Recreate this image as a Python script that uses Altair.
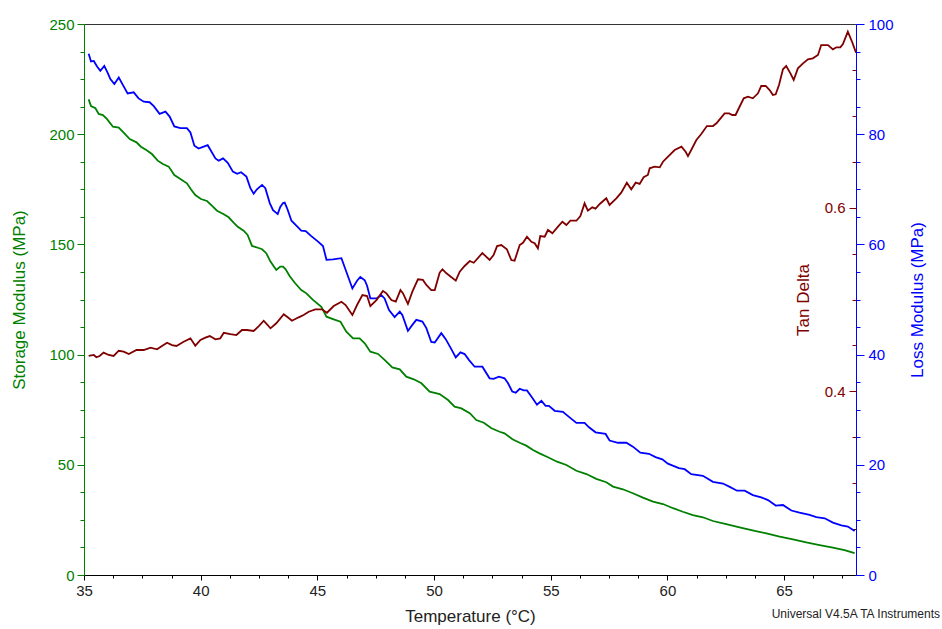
import altair as alt
import pandas as pd

# ---------------- data ----------------
storage_temp = [35.20, 35.30, 35.49, 35.63, 35.81, 35.99, 36.24, 36.49, 36.73, 36.96,
                37.25, 37.44, 37.67, 37.91, 38.16, 38.38, 38.63, 38.87, 39.13, 39.41,
                39.58, 39.77, 40.01, 40.27, 40.48, 40.70, 40.99, 41.20, 41.41, 41.59,
                41.84, 42.01, 42.20, 42.39, 42.63, 42.81, 42.99, 43.24, 43.41, 43.53,
                43.64, 43.81, 44.03, 44.31, 44.53, 44.81, 45.17, 45.39, 45.70, 45.99,
                46.24, 46.53, 46.81, 47.03, 47.27, 47.60, 47.88, 48.21, 48.53, 48.81,
                49.13, 49.46, 49.81, 50.24, 50.60, 50.88, 51.17, 51.53, 51.81, 52.13,
                52.46, 52.81, 53.02, 53.36, 53.67, 53.95, 54.24, 54.52, 54.88, 55.27,
                55.67, 56.10, 56.53, 56.95, 57.38, 57.67, 58.09, 58.52, 58.95, 59.38,
                59.81, 60.24, 60.66, 61.09, 61.52, 61.95, 62.52, 63.09, 63.74, 64.24,
                64.81, 65.38, 65.95, 66.52, 67.09, 67.59, 68.02]
storage_mpa = [215.8, 212.8, 211.8, 209.2, 208.7, 206.8, 203.4, 203.0, 200.4, 197.8,
               196.3, 194.3, 192.8, 191.0, 188.0, 186.5, 185.3, 181.5, 179.7, 177.7,
               175.0, 172.4, 170.6, 169.7, 167.6, 165.3, 163.7, 162.3, 159.9, 158.0,
               156.2, 154.3, 149.3, 148.7, 147.8, 146.0, 142.2, 138.4, 139.9, 139.9,
               138.7, 135.7, 132.6, 129.3, 127.8, 124.8, 121.7, 117.2, 116.0, 114.9,
               110.4, 107.4, 107.4, 105.1, 101.3, 100.3, 97.6, 94.2, 93.3, 90.0,
               88.8, 87.0, 83.2, 82.1, 79.4, 76.4, 75.6, 73.4, 70.3, 69.1,
               66.6, 65.0, 64.3, 61.6, 60.0, 58.7, 56.7, 55.2, 53.4, 51.4,
               49.9, 47.3, 45.8, 43.6, 42.1, 40.1, 38.9, 37.1, 35.1, 33.3,
               32.2, 30.3, 28.7, 27.2, 26.2, 24.5, 23.1, 21.6, 20.0, 18.9,
               17.4, 16.2, 14.8, 13.6, 12.4, 11.3, 9.9]

loss_temp = [35.20, 35.30, 35.42, 35.56, 35.70, 35.87, 36.02, 36.13, 36.30, 36.49,
             36.67, 36.87, 37.13, 37.34, 37.56, 37.81, 37.99, 38.24, 38.49, 38.67,
             38.87, 39.13, 39.41, 39.56, 39.73, 39.91, 40.10, 40.30, 40.44, 40.63,
             40.77, 40.96, 41.16, 41.38, 41.56, 41.73, 41.96, 42.13, 42.27, 42.41,
             42.63, 42.77, 42.96, 43.10, 43.30, 43.41, 43.53, 43.60, 43.70, 43.89,
             44.10, 44.31, 44.50, 44.74, 45.03, 45.24, 45.39, 45.67, 46.03, 46.21,
             46.50, 46.70, 46.84, 47.03, 47.13, 47.27, 47.53, 47.74, 47.88, 48.07,
             48.31, 48.53, 48.64, 48.88, 49.07, 49.24, 49.50, 49.67, 49.88, 50.03,
             50.31, 50.50, 50.74, 50.93, 51.13, 51.31, 51.50, 51.74, 52.07, 52.38,
             52.55, 52.78, 53.02, 53.17, 53.35, 53.50, 53.67, 53.84, 53.98, 54.17,
             54.41, 54.60, 54.78, 54.92, 55.17, 55.52, 55.78, 56.10, 56.45, 56.64,
             56.92, 57.35, 57.52, 57.88, 58.24, 58.52, 58.84, 59.21, 59.49, 59.78,
             60.02, 60.49, 60.74, 61.02, 61.52, 61.95, 62.38, 62.67, 62.98, 63.31,
             63.66, 64.02, 64.31, 64.64, 64.95, 65.31, 65.66, 66.09, 66.38, 66.74,
             67.09, 67.45, 67.73, 68.02]
loss_mpa = [94.6, 93.2, 93.3, 92.3, 91.5, 92.4, 91.1, 90.0, 89.1, 90.3,
            88.9, 87.4, 87.6, 86.5, 85.9, 85.8, 85.1, 83.7, 84.1, 83.2,
            81.4, 81.1, 81.1, 80.3, 77.9, 77.4, 77.7, 78.0, 77.0, 75.6,
            75.2, 75.6, 74.8, 73.2, 72.8, 73.1, 72.3, 70.2, 69.2, 70.0,
            70.8, 70.2, 67.5, 66.2, 65.5, 66.8, 67.5, 67.6, 66.6, 64.3,
            63.4, 62.5, 62.4, 61.5, 60.5, 59.7, 57.2, 57.3, 57.5, 55.4,
            52.0, 53.4, 54.1, 53.5, 52.5, 50.2, 50.2, 50.8, 50.2, 48.1,
            46.8, 47.8, 47.2, 44.3, 45.4, 46.3, 46.0, 44.8, 42.3, 42.2,
            43.9, 42.8, 41.0, 39.5, 40.4, 40.1, 39.0, 37.8, 37.8, 35.7,
            35.6, 36.0, 35.7, 34.8, 33.3, 33.1, 33.8, 33.5, 33.5, 32.4,
            30.9, 31.6, 30.7, 30.7, 29.8, 29.6, 28.7, 27.6, 27.6, 26.8,
            25.9, 25.6, 24.4, 24.0, 24.0, 23.3, 22.2, 22.0, 21.4, 21.0,
            20.2, 19.4, 19.2, 18.3, 18.0, 16.9, 16.6, 16.0, 15.3, 15.3,
            14.5, 14.1, 13.6, 12.6, 12.7, 11.7, 11.3, 10.9, 10.5, 10.3,
            9.5, 9.0, 8.8, 8.0]

tan_temp = [35.20, 35.42, 35.53, 35.67, 35.84, 36.06, 36.27, 36.49, 36.70, 36.92,
            37.25, 37.56, 37.85, 38.13, 38.34, 38.56, 38.77, 38.96, 39.27, 39.56,
            39.77, 39.99, 40.20, 40.39, 40.63, 40.84, 40.99, 41.27, 41.53, 41.77,
            41.98, 42.27, 42.49, 42.70, 42.87, 42.99, 43.24, 43.56, 43.73, 43.91,
            44.20, 44.41, 44.63, 44.91, 45.20, 45.41, 45.70, 46.03, 46.21, 46.50,
            46.70, 46.93, 47.13, 47.27, 47.53, 47.81, 47.96, 48.17, 48.36, 48.56,
            48.67, 48.88, 49.07, 49.31, 49.52, 49.67, 49.88, 50.03, 50.24, 50.36,
            50.53, 50.93, 51.10, 51.31, 51.53, 51.70, 52.07, 52.38, 52.55, 52.70,
            52.88, 53.12, 53.31, 53.45, 53.67, 53.81, 53.98, 54.17, 54.31, 54.45,
            54.55, 54.74, 54.88, 55.07, 55.31, 55.50, 55.67, 55.84, 56.10, 56.27,
            56.45, 56.59, 56.78, 56.92, 57.10, 57.38, 57.52, 57.81, 58.02, 58.26,
            58.45, 58.64, 58.81, 58.98, 59.16, 59.24, 59.45, 59.67, 59.81, 59.95,
            60.09, 60.31, 60.60, 60.78, 60.88, 61.02, 61.24, 61.45, 61.69, 61.95,
            62.10, 62.24, 62.45, 62.64, 62.78, 62.92, 63.09, 63.27, 63.45, 63.66,
            63.88, 64.02, 64.21, 64.38, 64.52, 64.64, 64.78, 64.95, 65.09, 65.27,
            65.41, 65.59, 65.81, 66.02, 66.23, 66.45, 66.59, 66.88, 67.09, 67.24,
            67.41, 67.52, 67.73, 67.91, 68.08]
tan_delta = [0.4385, 0.4396, 0.4371, 0.4385, 0.4421, 0.4396, 0.4385, 0.4442, 0.4432, 0.4406,
             0.4450, 0.4450, 0.4475, 0.4458, 0.4494, 0.4530, 0.4504, 0.4494, 0.4540, 0.4577,
             0.4497, 0.4559, 0.4584, 0.4602, 0.4567, 0.4577, 0.4638, 0.4624, 0.4613, 0.4668,
             0.4668, 0.4657, 0.4711, 0.4769, 0.4722, 0.4686, 0.4741, 0.4839, 0.4806, 0.4769,
             0.4806, 0.4831, 0.4867, 0.4893, 0.4893, 0.4856, 0.4929, 0.4976, 0.4940, 0.4831,
             0.4940, 0.5049, 0.5038, 0.4929, 0.4994, 0.5092, 0.5067, 0.4994, 0.4976, 0.5103,
             0.5067, 0.4951, 0.5085, 0.5220, 0.5213, 0.5158, 0.5103, 0.5103, 0.5292, 0.5329,
             0.5285, 0.5205, 0.5303, 0.5365, 0.5419, 0.5400, 0.5506, 0.5430, 0.5484, 0.5582,
             0.5593, 0.5547, 0.5430, 0.5422, 0.5593, 0.5618, 0.5684, 0.5629, 0.5612, 0.5557,
             0.5691, 0.5684, 0.5757, 0.5721, 0.5793, 0.5847, 0.5811, 0.5858, 0.5858, 0.5909,
             0.6047, 0.5967, 0.6004, 0.5989, 0.6040, 0.6102, 0.6029, 0.6102, 0.6163, 0.6272,
             0.6200, 0.6272, 0.6258, 0.6331, 0.6356, 0.6429, 0.6446, 0.6439, 0.6500, 0.6537,
             0.6573, 0.6628, 0.6664, 0.6609, 0.6562, 0.6628, 0.6737, 0.6802, 0.6889, 0.6889,
             0.6919, 0.6962, 0.7027, 0.7027, 0.7009, 0.7009, 0.7099, 0.7191, 0.7208, 0.7191,
             0.7245, 0.7325, 0.7325, 0.7281, 0.7227, 0.7234, 0.7336, 0.7507, 0.7543, 0.7463,
             0.7390, 0.7517, 0.7572, 0.7615, 0.7626, 0.7662, 0.7771, 0.7771, 0.7724, 0.7746,
             0.7746, 0.7782, 0.7916, 0.7807, 0.7687]

# axis tick values
x_major = [35, 40, 45, 50, 55, 60, 65]
x_minor = [36.25, 37.5, 38.75, 41.25, 42.5, 43.75, 46.25, 47.5, 48.75, 51.25, 52.5, 53.75,
           56.25, 57.5, 58.75, 61.25, 62.5, 63.75, 66.25, 67.5]
storage_major = [0, 50, 100, 150, 200, 250]
storage_minor = [12.5, 25, 37.5, 62.5, 75, 87.5, 112.5, 125, 137.5, 162.5, 175, 187.5,
                 212.5, 225, 237.5]
loss_major = [0, 20, 40, 60, 80, 100]
loss_minor = [5, 10, 15, 25, 30, 35, 45, 50, 55, 65, 70, 75, 85, 90, 95]
tan_major = [0.4, 0.6]
tan_minor = [0.25, 0.3, 0.35, 0.45, 0.5, 0.55, 0.65, 0.7, 0.75]
footer = "Universal V4.5A TA Instruments"

# ---------------- styling ----------------
FONT = "Liberation Sans"
GREEN = "#008000"
BLUE = "#0000FF"
RED = "#800000"
W, H = 772, 551
X_DOMAIN = [35, 68.08]

storage_df = pd.DataFrame({"temp": storage_temp, "value": storage_mpa})
loss_df = pd.DataFrame({"temp": loss_temp, "value": loss_mpa})
tan_df = pd.DataFrame({"temp": tan_temp, "value": tan_delta})


def xscale():
    return alt.Scale(domain=X_DOMAIN, nice=False, zero=False)


def x_none():
    return alt.X("temp:Q", scale=xscale(), axis=None)


# storage modulus (green) with major axis + bottom x axis
storage_line = alt.Chart(storage_df).mark_line(color=GREEN, strokeWidth=1.8, clip=True).encode(
    x=alt.X("temp:Q", scale=xscale(),
            axis=alt.Axis(orient="bottom", values=x_major, format="d", title="Temperature (°C)",
                          grid=False, domainColor="#000", tickColor="#000", tickSize=5,
                          labelPadding=3, labelFontSize=15, labelColor="#222", labelFont=FONT,
                          labelFlush=False,
                          titleFont=FONT, titleFontSize=17, titleFontWeight="normal",
                          titleColor="#222", titlePadding=10)),
    y=alt.Y("value:Q", scale=alt.Scale(domain=[0, 250], nice=False, zero=False),
            axis=alt.Axis(orient="left", values=storage_major, format="d",
                          title="Storage Modulus (MPa)", grid=False, labelFlush=False,
                          domainColor=GREEN, tickColor=GREEN, labelColor=GREEN, titleColor=GREEN,
                          tickSize=7, labelPadding=3, labelFontSize=15, labelFont=FONT,
                          titleFont=FONT, titleFontSize=17, titleFontWeight="normal",
                          titlePadding=20)),
)

storage_minor_layer = alt.Chart(storage_df).mark_line(strokeOpacity=0).encode(
    x=alt.X("temp:Q", scale=xscale(),
            axis=alt.Axis(orient="bottom", values=x_minor, labels=False, title=None, grid=False,
                          domain=False, tickColor="#000", tickSize=3)),
    y=alt.Y("value:Q", scale=alt.Scale(domain=[0, 250], nice=False, zero=False),
            axis=alt.Axis(orient="left", values=storage_minor, labels=False, title=None,
                          grid=False, domain=False, tickColor=GREEN, tickSize=4)),
)

loss_line = alt.Chart(loss_df).mark_line(color=BLUE, strokeWidth=1.8, clip=True).encode(
    x=x_none(),
    y=alt.Y("value:Q", scale=alt.Scale(domain=[0, 100], nice=False, zero=False),
            axis=alt.Axis(orient="right", values=loss_major, format="d",
                          title="Loss Modulus (MPa)", grid=False, labelFlush=False,
                          domainColor=BLUE, tickColor=BLUE, labelColor=BLUE, titleColor=BLUE,
                          tickSize=8, labelPadding=4, labelFontSize=15, labelFont=FONT,
                          titleFont=FONT, titleFontSize=17, titleFontWeight="normal",
                          titleAngle=270, titleBaseline="top", titlePadding=16)),
)

loss_minor_layer = alt.Chart(loss_df).mark_line(strokeOpacity=0).encode(
    x=x_none(),
    y=alt.Y("value:Q", scale=alt.Scale(domain=[0, 100], nice=False, zero=False),
            axis=alt.Axis(orient="right", values=loss_minor, labels=False, title=None,
                          grid=False, domain=False, tickColor=BLUE, tickSize=4)),
)

tan_line = alt.Chart(tan_df).mark_line(color=RED, strokeWidth=1.8, clip=True).encode(
    x=x_none(),
    y=alt.Y("value:Q", scale=alt.Scale(domain=[0.2, 0.8], nice=False, zero=False),
            axis=alt.Axis(orient="left", offset=-W, values=tan_major, format=".1f",
                          title="Tan Delta", grid=False, domain=False, labelFlush=False,
                          tickColor=RED, labelColor=RED, titleColor=RED,
                          tickSize=7, labelPadding=4, labelFontSize=15, labelFont=FONT,
                          titleFont=FONT, titleFontSize=17, titleFontWeight="normal",
                          titlePadding=12)),
)

tan_minor_layer = alt.Chart(tan_df).mark_line(strokeOpacity=0).encode(
    x=x_none(),
    y=alt.Y("value:Q", scale=alt.Scale(domain=[0.2, 0.8], nice=False, zero=False),
            axis=alt.Axis(orient="left", offset=-W, values=tan_minor, labels=False, title=None,
                          grid=False, domain=False, tickColor=RED, tickSize=4)),
)

footer_layer = alt.Chart(pd.DataFrame({"label": [footer]})).mark_text(
    align="right", baseline="middle", font=FONT, fontSize=12, color="#222"
).encode(x=alt.value(W + 84), y=alt.value(H + 39), text="label:N")

chart = alt.layer(
    storage_minor_layer, loss_minor_layer, tan_minor_layer,
    storage_line, loss_line, tan_line, footer_layer,
).resolve_scale(
    x="independent", y="independent"
).resolve_axis(
    x="independent", y="independent"
).properties(
    width=W, height=H,
    autosize=alt.AutoSizeParams(type="none"),
    padding={"left": 84, "top": 24, "right": 86, "bottom": 54},
    background="white",
).configure_view(
    stroke="#333", strokeWidth=1
)

chart.save("out.html", embed_options={"renderer": "svg", "actions": False})
